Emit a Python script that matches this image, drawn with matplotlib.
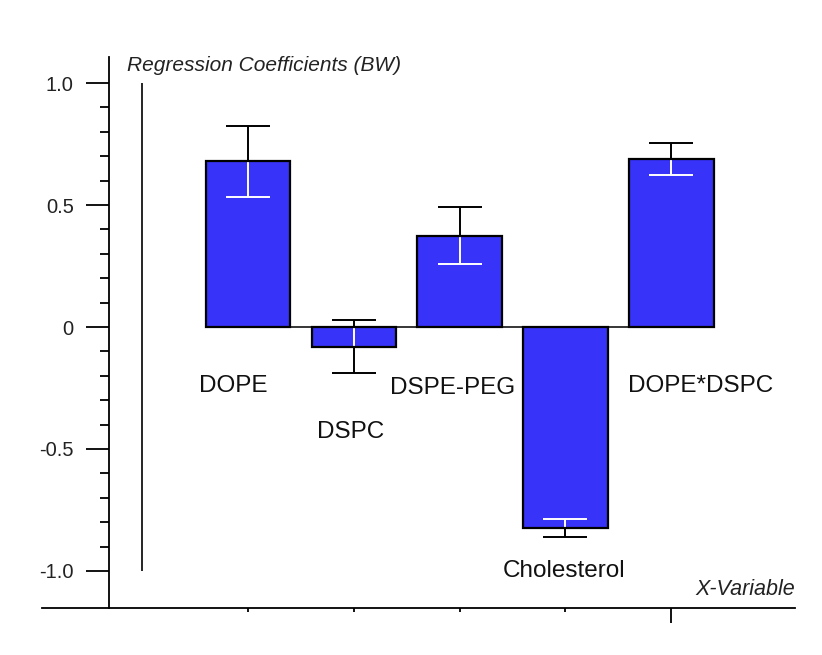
import numpy as np
import matplotlib.pyplot as plt

plt.rcParams['font.family'] = ['Liberation Sans', 'DejaVu Sans']

variables = ['DOPE', 'DSPC', 'DSPE-PEG', 'Cholesterol', 'DOPE*DSPC']
coefficients = [0.68, -0.08, 0.375, -0.825, 0.69]
errors = [0.146, 0.109, 0.117, 0.037, 0.065]
y_ticks = [1.0, 0.5, 0, -0.5, -1.0]
y_tick_labels = ['1.0', '0.5', '0', '-0.5', '-1.0']

BLUE = '#3833F8'
W = 0.8

fig = plt.figure(figsize=(8.22, 6.55), dpi=100)
ax = fig.add_axes([42 / 822, 47 / 655, 753 / 822, 551 / 655])
x = np.arange(1, len(variables) + 1)

# black error bars sit under the fill, white ones are clipped to the bar
ax.errorbar(x, coefficients, yerr=errors, fmt='none', ecolor='black',
            elinewidth=1.4, capsize=16, capthick=1.4, zorder=1.5)
bars = ax.bar(x, coefficients, W, color=BLUE, edgecolor='none', zorder=2)
for i, bar in enumerate(bars):
    eb = ax.errorbar([x[i]], [coefficients[i]], yerr=[errors[i]], fmt='none',
                     ecolor='white', elinewidth=1.4, capsize=16, capthick=1.4, zorder=3)
    for art in list(eb.lines[1]) + list(eb.lines[2]):
        art.set_clip_path(bar)
ax.bar(x, coefficients, W, fill=False, edgecolor='black', linewidth=1.6, zorder=4)
ax.hlines(0, x[0] - W / 2, x[-1] + W / 2, color='black', lw=1.1, zorder=1)
ax.vlines(0, -1.0, 1.0, color='black', lw=1.2)

# category labels
label_pos = [(0.86, -0.24), (1.97, -0.43), (2.93, -0.25), (3.99, -1.0), (5.28, -0.24)]
for name, (lx, ly) in zip(variables, label_pos):
    ax.text(lx, ly, name, ha='center', va='center', fontsize=17.5, color='#111111')

ax.set_xlim(-0.948, 6.17)
ax.set_ylim(-1.152, 1.107)

ax.spines['left'].set_position(('data', -0.314))
ax.spines['top'].set_visible(False)
ax.spines['right'].set_visible(False)
ax.spines['left'].set_linewidth(1.3)
ax.spines['bottom'].set_linewidth(1.3)

ax.set_yticks(y_ticks)
ax.set_yticklabels(y_tick_labels)
ax.set_yticks(np.arange(-0.9, 0.95, 0.1), minor=True)
ax.tick_params(axis='y', which='major', length=16.5, width=1.3, pad=9,
               labelsize=14.5, labelcolor='#222222')
ax.tick_params(axis='y', which='minor', length=6.5, width=1.3)

ax.set_xticks(x)
ax.tick_params(axis='x', length=3, width=1.3, labelbottom=False)
ax.xaxis.get_major_ticks()[-1].tick1line.set_markersize(11)

ax.text(0.113, 0.985, 'Regression Coefficients (BW)', transform=ax.transAxes,
        ha='left', va='center', fontsize=15, fontstyle='italic', color='#222222')
ax.text(1.0, 0.034, 'X-Variable', transform=ax.transAxes,
        ha='right', va='center', fontsize=15.5, fontstyle='italic', color='#222222')

plt.savefig('out.png', dpi=100)
